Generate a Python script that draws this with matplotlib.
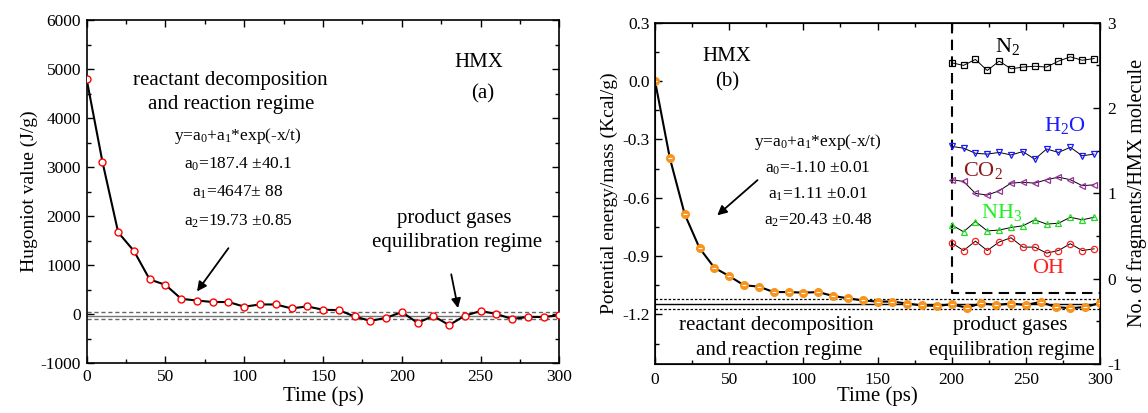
import numpy as np
import matplotlib
matplotlib.use("Agg")
import matplotlib.pyplot as plt
from matplotlib.ticker import MultipleLocator, FormatStrFormatter

plt.rcParams["font.family"] = ["Liberation Serif", "DejaVu Serif"]
plt.rcParams["mathtext.fontset"] = "custom"
plt.rcParams["mathtext.rm"] = "Liberation Serif"
plt.rcParams["mathtext.it"] = "Liberation Serif:italic"
plt.rcParams["axes.unicode_minus"] = False

# ── data ──────────────────────────────────────────────────────────────────────
time_ps = np.arange(0, 301, 10)

hugoniot = [4790, 3110, 1670, 1290, 710, 600, 315, 280, 250, 250, 155,
            200, 200, 120, 160, 92, 85, -45, -135, -72, 45, -175, -35,
            -220, -30, 67, 6, -96, -55, -55, -20]
hug_mean, hug_band = -25, 73

pot_energy = [0.0, -0.397, -0.685, -0.859, -0.960, -1.003, -1.050, -1.057,
              -1.085, -1.085, -1.088, -1.085, -1.105, -1.117, -1.128, -1.134,
              -1.134, -1.144, -1.154, -1.156, -1.148, -1.165, -1.143, -1.151,
              -1.144, -1.151, -1.136, -1.162, -1.168, -1.162, -1.141]
pe_mean, pe_band = -1.148, 0.025

frag_t = np.arange(200, 297, 8)
n2  = [2.53, 2.50, 2.57, 2.44, 2.55, 2.46, 2.48, 2.49, 2.48, 2.55, 2.60, 2.56, 2.58]
h2o = [1.55, 1.53, 1.47, 1.46, 1.48, 1.45, 1.49, 1.40, 1.52, 1.48, 1.54, 1.44, 1.46]
co2 = [1.16, 1.14, 1.00, 0.98, 1.03, 1.12, 1.13, 1.12, 1.16, 1.19, 1.16, 1.09, 1.10]
nh3 = [0.63, 0.55, 0.67, 0.56, 0.57, 0.60, 0.62, 0.69, 0.64, 0.65, 0.72, 0.69, 0.72]
oh  = [0.42, 0.33, 0.44, 0.33, 0.43, 0.48, 0.37, 0.37, 0.30, 0.33, 0.41, 0.33, 0.35]

# species: (values, marker, marker colour, label, label colour, label x, label y)
species = [
    (n2,  "s", "black",   "N$_2$",   "black",   238, 2.72),
    (h2o, "v", "#1a1aff", "H$_2$O",  "#1a1aff", 276, 1.79),
    (co2, "<", "#993399", "CO$_2$",  "#8b1a1a", 221, 1.27),
    (nh3, "^", "#22dd22", "NH$_3$",  "#22ee22", 234, 0.78),
    (oh,  "o", "#ff2020", "OH",      "#ff2020", 265, 0.12),
]

ORANGE = "#f7941d"


def style_axis(ax):
    ax.tick_params(which="both", direction="in", top=True, right=True,
                   labelsize=12.5, width=1.0, pad=4)
    ax.tick_params(which="major", length=5)
    ax.tick_params(which="minor", length=3)
    for s in ax.spines.values():
        s.set_linewidth(1.2)


fig = plt.figure(figsize=(11.48, 4.13), dpi=100)

# ── (a) Hugoniot ─────────────────────────────────────────────────────────────
ax1 = fig.add_axes([0.0755, 0.1203, 0.4118, 0.8312])
ax1.axhline(hug_mean, color="#777777", lw=1.0)
ax1.axhline(hug_mean + hug_band, color="#666666", lw=1.0, ls=(0, (3, 2)))
ax1.axhline(hug_mean - hug_band, color="#666666", lw=1.0, ls=(0, (3, 2)))
ax1.plot(time_ps, hugoniot, color="black", lw=1.5, marker="o", ms=5,
         mfc="white", mec="red", mew=1.0, zorder=3)
ax1.set_xlim(0, 300)
ax1.set_ylim(-1000, 6000)
ax1.xaxis.set_major_locator(MultipleLocator(50))
ax1.xaxis.set_minor_locator(MultipleLocator(25))
ax1.yaxis.set_major_locator(MultipleLocator(1000))
ax1.yaxis.set_minor_locator(MultipleLocator(500))
style_axis(ax1)
ax1.set_xlabel("Time (ps)", fontsize=15, labelpad=1)
ax1.set_ylabel("Hugoniot value (J/g)", fontsize=14, labelpad=2)

ax1.text(249, 5130, "HMX", fontsize=15, ha="center", va="center")
ax1.text(251, 4500, "(a)", fontsize=15, ha="center", va="center")
ax1.text(91, 4776, "reactant decomposition", fontsize=15, ha="center", va="center")
ax1.text(92, 4273, "and reaction regime", fontsize=15, ha="center", va="center")
fit_a = ["y=a$_0$+a$_1$*exp(-x/t)", "a$_0$=187.4 ±40.1",
         "a$_1$=4647± 88", "a$_2$=19.73 ±0.85"]
for i, s in enumerate(fit_a):
    ax1.text(96, 3640 - i * 578, s, fontsize=12.5, ha="center", va="center")
ax1.text(233, 1960, "product gases", fontsize=15, ha="center", va="center")
ax1.text(235, 1455, "equilibration regime", fontsize=15, ha="center", va="center")
ax1.annotate("", xy=(69, 420), xytext=(91, 1394),
             arrowprops=dict(arrowstyle="-|>", color="black", lw=1.3,
                             mutation_scale=14))
ax1.annotate("", xy=(236, 70), xytext=(231, 870),
             arrowprops=dict(arrowstyle="-|>", color="black", lw=1.3,
                             mutation_scale=14))

# ── (b) potential energy + fragments ─────────────────────────────────────────
ax2 = fig.add_axes([0.5706, 0.1186, 0.3876, 0.8264])
ax2.axhline(pe_mean, color="black", lw=1.0)
ax2.axhline(pe_mean + pe_band, color="black", lw=0.9, ls=(0, (2, 1.5)))
ax2.axhline(pe_mean - pe_band, color="black", lw=0.9, ls=(0, (2, 1.5)))
ax2.plot(time_ps, pot_energy, color="black", lw=1.5, zorder=3)
ax2.plot(time_ps, pot_energy, ls="none", marker="o", ms=5.5, mfc=ORANGE,
         mec=ORANGE, zorder=4)
ax2.plot(time_ps, pot_energy, ls="none", marker="_", ms=3.5, mec="white",
         mew=0.8, zorder=5)
ax2.set_xlim(0, 300)
ax2.set_ylim(-1.455, 0.3)
ax2.xaxis.set_major_locator(MultipleLocator(50))
ax2.xaxis.set_minor_locator(MultipleLocator(25))
ax2.yaxis.set_major_locator(MultipleLocator(0.3))
ax2.yaxis.set_minor_locator(MultipleLocator(0.15))
ax2.yaxis.set_major_formatter(FormatStrFormatter("%.1f"))
style_axis(ax2)
ax2.tick_params(which="both", right=False)
ax2.tick_params(axis="x", pad=5.5)
ax2.set_xlabel("Time (ps)", fontsize=15, labelpad=-1)
ax2.set_ylabel("Potential energy/mass (Kcal/g)", fontsize=14, labelpad=3)

ax2.text(48.5, 0.125, "HMX", fontsize=15, ha="center", va="center")
ax2.text(48.5, -0.003, "(b)", fontsize=15, ha="center", va="center")
fit_b = ["y=a$_0$+a$_1$*exp(-x/t)", "a$_0$=-1.10 ±0.01",
         "a$_1$=1.11 ±0.01", "a$_2$=20.43 ±0.48"]
for i, s in enumerate(fit_b):
    ax2.text(110, -0.315 - i * 0.134, s, fontsize=12.5, ha="center", va="center")
ax2.text(82, -1.255, "reactant decomposition", fontsize=15, ha="center", va="center")
ax2.text(84, -1.385, "and reaction regime", fontsize=15, ha="center", va="center")
ax2.text(239.5, -1.255, "product gases", fontsize=15, ha="center", va="center")
ax2.text(240.5, -1.385, "equilibration regime", fontsize=14.7, ha="center", va="center")
ax2.annotate("", xy=(40.5, -0.70), xytext=(70.5, -0.50),
             arrowprops=dict(arrowstyle="-|>", color="black", lw=1.3,
                             mutation_scale=14))

ax3 = ax2.twinx()
ax3.set_ylim(-1, 3)
ax3.yaxis.set_major_locator(MultipleLocator(1))
ax3.yaxis.set_minor_locator(MultipleLocator(0.5))
ax3.tick_params(which="both", direction="in", labelsize=12.5, width=1.0, pad=5)
ax3.tick_params(which="major", length=5)
ax3.tick_params(which="minor", length=3)
ax3.set_ylabel("No. of fragments/HMX molecule", fontsize=14.5, labelpad=4)

# dashed frame around the fragment window
ax3.plot([200, 200, 300], [3, -0.17, -0.17], color="black", lw=1.5,
         ls=(0, (5, 3)), zorder=2)
for vals, mk, mc, lab, lc, lx, ly in species:
    ax3.plot(frag_t, vals, color="black", lw=0.7, marker=mk, ms=4.5,
             mfc="none", mec=mc, mew=0.9)
    ax3.text(lx, ly, lab, color=lc, fontsize=16, ha="center", va="center")

fig.savefig("out.png", dpi=100)
